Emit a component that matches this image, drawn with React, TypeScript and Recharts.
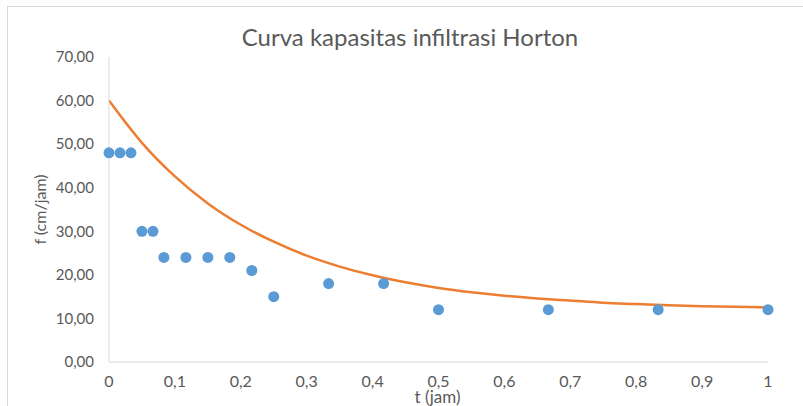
import React from "react";
import { ComposedChart, Line, Scatter, XAxis, YAxis, Label } from "recharts";

// Observed infiltration data: time (jam) and infiltration rate f (cm/jam)
const obsT = [0, 0.0167, 0.0333, 0.05, 0.0667, 0.0833, 0.1167, 0.15, 0.1833, 0.2167, 0.25, 0.3333, 0.4167, 0.5, 0.6667, 0.8333, 1];
const obsF = [48, 48, 48, 30, 30, 24, 24, 24, 24, 21, 15, 18, 18, 12, 12, 12, 12];

// Horton curve, values
const curveT = [0, 0.05, 0.1, 0.15, 0.2, 0.25, 0.3, 0.35, 0.4, 0.45, 0.5, 0.55, 0.6, 0.65, 0.7, 0.75, 0.8, 0.85, 0.9, 0.95, 1];
const curveF = [60, 50.3, 42.6, 36.4, 31.5, 27.6, 24.4, 21.9, 19.9, 18.3, 17.0, 16.0, 15.2, 14.6, 14.1, 13.6, 13.3, 13.0, 12.8, 12.7, 12.5];

const xTicks = [0, 0.1, 0.2, 0.3, 0.4, 0.5, 0.6, 0.7, 0.8, 0.9, 1];
const yTicks = [0, 10, 20, 30, 40, 50, 60, 70];

const title = "Curva kapasitas infiltrasi Horton";
const xLabel = "t (jam)";
const yLabel = "f (cm/jam)";

const obsData = obsT.map((t, i) => ({ t, f: obsF[i] }));
const curveData = curveT.map((t, i) => ({ t, f: curveF[i] }));

const FONT = "Lato, 'Open Sans', sans-serif";
const TEXT = "#595959";

const Dot = (props: any) => {
  if (props.cx == null || props.cy == null) return null;
  return <circle cx={props.cx} cy={props.cy} r={5.5} fill="#5B9BD5" />;
};

export default function App() {
  return (
    <div style={{ position: "absolute", left: 0, top: 0, width: 803, height: 406, background: "#fff", fontFamily: FONT }}>
      <div
        style={{
          position: "absolute",
          left: 7,
          top: 6,
          width: 800,
          height: 402,
          border: "1px solid #D9D9D9",
          boxSizing: "border-box",
        }}
      />
      <div
        style={{
          position: "absolute",
          left: 0,
          width: 820,
          top: 22,
          textAlign: "center",
          fontSize: 24,
          color: TEXT,
          lineHeight: "30px",
        }}
      >
        {title}
      </div>
      <div style={{ position: "absolute", left: 0, top: 0 }}>
        <ComposedChart width={803} height={406} margin={{ top: 57, right: 35, bottom: 0, left: 0 }}>
          <XAxis
            dataKey="t"
            type="number"
            domain={[0, 1]}
            ticks={xTicks}
            tickFormatter={(v: number) => String(v).replace(".", ",")}
            tickLine={false}
            tickSize={6}
            tickMargin={8}
            height={44}
            stroke="#D9D9D9"
            tick={{ fill: TEXT, fontSize: 16, fontFamily: FONT }}
            allowDuplicatedCategory={false}
          >
            <Label value={xLabel} position="insideBottom" offset={3} fill={TEXT} fontSize={17} fontFamily={FONT} dx={-1} />
          </XAxis>
          <YAxis
            type="number"
            domain={[0, 70]}
            ticks={yTicks}
            tickFormatter={(v: number) => v.toFixed(2).replace(".", ",")}
            tickLine={false}
            tickSize={6}
            tickMargin={9}
            width={109}
            stroke="#D9D9D9"
            tick={{ fill: TEXT, fontSize: 15, fontFamily: FONT }}
          >
            <Label value={yLabel} angle={-90} position="insideLeft" offset={40} fill={TEXT} fontSize={16} fontFamily={FONT} style={{ textAnchor: "middle" }} />
          </YAxis>
          <Line
            data={curveData}
            dataKey="f"
            type="monotone"
            stroke="#ED7D31"
            strokeWidth={2.5}
            dot={false}
            activeDot={false}
            isAnimationActive={false}
          />
          <Scatter data={obsData} dataKey="f" shape={Dot} isAnimationActive={false} />
        </ComposedChart>
      </div>
    </div>
  );
}
